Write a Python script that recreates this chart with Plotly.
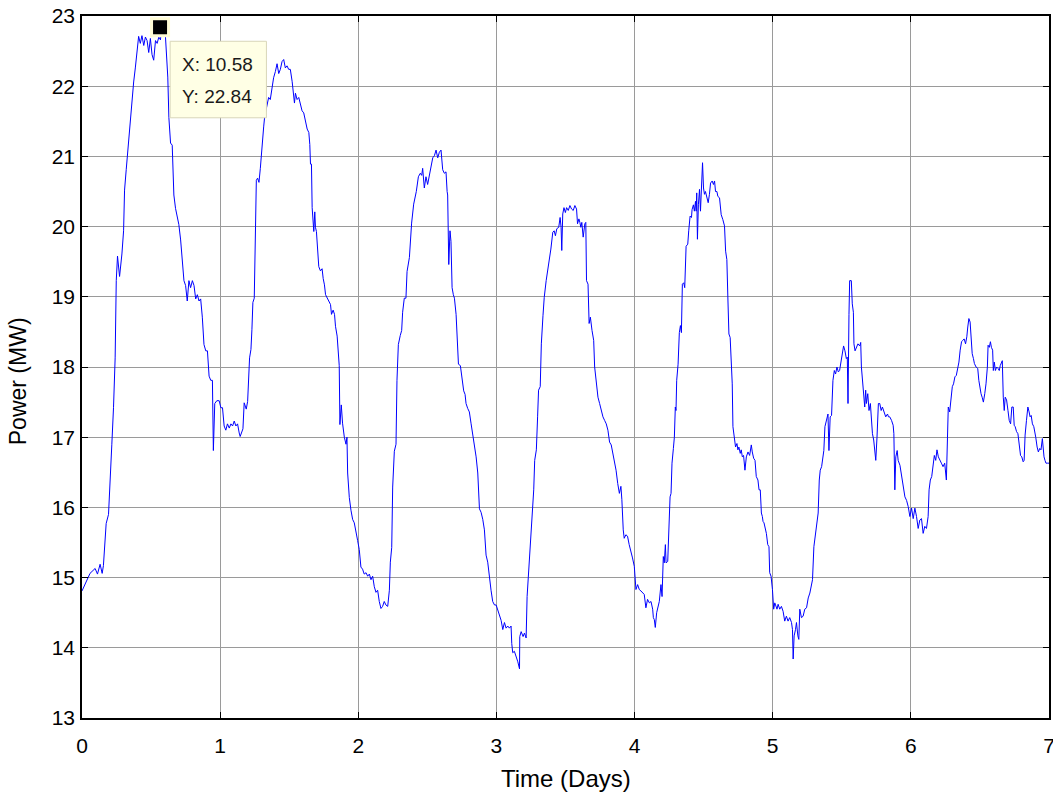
import plotly.graph_objects as go

# ---- data ----
day = [
0.000,0.022,0.058,0.095,0.112,0.131,0.146,0.155,0.160,0.175,0.192,0.204,0.216,0.228,0.240,0.248,0.257,0.272,0.289,0.301,
0.308,0.320,0.337,0.350,0.362,0.374,0.386,0.398,0.410,0.422,0.434,0.447,0.459,0.471,0.483,0.495,0.507,0.519,0.532,0.544,
0.556,0.568,0.575,0.587,0.597,0.604,0.612,0.621,0.629,0.641,0.653,0.665,0.677,0.689,0.701,0.714,0.726,0.738,0.750,0.762,
0.774,0.786,0.799,0.811,0.823,0.835,0.847,0.859,0.871,0.883,0.896,0.908,0.920,0.932,0.944,0.951,0.961,0.976,0.993,1.005,
1.017,1.029,1.041,1.053,1.066,1.078,1.090,1.102,1.114,1.126,1.138,
1.145,1.165,1.174,1.189,1.199,1.213,1.223,1.230,1.237,1.247,1.254,1.262,1.271,1.281,1.291,1.298,1.308,1.315,1.322,1.339,
1.351,1.363,1.375,1.387,1.400,1.412,1.424,1.436,1.448,1.460,1.472,1.484,1.496,1.508,1.521,1.533,1.538,1.545,1.557,1.569,
1.581,1.593,1.605,1.617,1.630,1.642,1.649,1.654,1.661,1.666,1.673,1.678,1.685,1.690,1.697,1.707,1.714,1.726,1.738,1.746,
1.755,1.763,1.775,1.787,1.799,1.806,1.818,1.828,1.835,1.847,1.855,1.862,1.867,1.877,
1.886,1.899,1.911,1.918,1.923,1.935,1.947,1.959,1.971,1.983,1.995,2.007,2.019,2.031,2.043,2.056,2.068,2.080,2.092,2.104,
2.116,2.128,2.140,2.152,2.164,2.176,2.188,2.200,2.213,2.225,2.232,2.242,2.249,2.261,2.273,2.280,2.290,2.304,2.314,2.321,
2.333,2.345,2.353,2.370,2.377,2.386,2.401,2.411,2.420,2.435,2.449,2.459,2.466,2.478,2.490,2.502,2.514,2.527,2.539,2.551,
2.563,2.575,2.587,2.599,2.606,2.611,2.623,2.635,2.643,2.647,2.655,2.664,2.671,2.679,2.688,2.696,2.708,2.715,2.725,2.739,
2.749,2.763,2.773,2.780,2.792,2.804,2.816,2.829,2.836,2.845,2.853,2.865,2.877,2.889,2.901,2.913,2.925,2.937,2.949,2.961,
2.973,2.986,2.998,3.010,3.022,3.034,3.046,3.058,3.070,3.082,3.094,3.106,3.111,3.118,3.130,3.143,3.155,3.167,
3.169,3.179,3.193,3.203,3.215,3.222,3.234,3.246,3.258,3.270,3.277,3.289,3.298,3.305,3.317,3.325,3.337,3.346,3.360,3.372,
3.384,3.394,3.408,3.418,3.427,3.437,3.451,3.461,3.468,3.473,3.480,3.489,3.499,3.508,3.520,3.532,3.544,3.556,3.568,3.580,
3.587,3.597,3.604,3.611,3.618,3.628,3.640,3.647,3.652,3.663,3.671,3.680,3.692,3.704,3.711,3.723,3.735,3.747,3.759,3.771,
3.783,3.795,3.807,3.819,3.831,3.842,3.854,3.866,3.878,3.890,
3.901,3.908,3.918,3.925,3.937,3.949,3.961,3.973,3.985,3.998,4.005,4.010,4.022,4.034,4.046,4.058,4.070,4.082,4.094,4.107,
4.119,4.131,4.136,4.143,4.150,4.160,4.169,4.179,4.191,4.199,4.208,4.215,4.223,4.228,4.240,4.247,4.257,4.264,4.271,4.281,
4.288,4.295,4.300,4.305,4.315,4.324,4.332,4.339,4.346,4.356,4.363,4.373,4.385,4.392,4.402,4.412,4.416,4.426,4.433,4.441,
4.446,4.450,4.455,4.462,4.470,4.477,4.484,4.492,4.499,4.506,4.513,4.523,4.533,4.542,4.550,4.562,4.571,4.579,4.586,4.596,
4.603,4.615,4.627,4.639,4.651,4.659,4.668,4.676,4.683,4.692,4.700,4.707,4.712,4.724,4.731,4.741,4.748,4.755,4.765,4.772,
4.780,4.789,4.799,4.809,4.821,4.833,4.845,4.852,4.862,4.872,4.881,4.893,4.901,4.910,4.918,4.925,4.930,4.937,4.947,4.954,
4.964,4.973,4.978,4.988,4.998,5.007,5.015,5.022,5.031,5.039,5.051,5.063,5.075,5.087,5.099,5.111,5.123,5.136,5.143,5.148,
5.155,5.165,5.172,5.182,5.189,5.196,5.208,5.220,5.232,5.245,5.257,5.269,5.281,5.288,5.298,5.305,5.317,5.329,5.337,
5.344,5.354,5.363,5.370,5.378,5.387,5.400,5.407,5.416,5.426,5.436,5.446,5.455,5.465,5.475,5.484,5.494,5.504,5.513,5.523,
5.533,5.540,5.545,5.552,5.557,5.569,5.576,5.584,5.588,5.596,5.605,5.617,5.630,5.637,5.642,5.649,5.659,5.666,5.673,5.678,
5.688,5.697,5.707,5.714,5.722,5.731,5.738,5.746,5.755,5.765,5.775,5.785,5.794,5.804,5.818,5.831,5.838,5.847,5.860,5.872,
5.877,5.884,5.891,5.901,5.908,
5.921,5.933,5.945,5.957,5.969,5.981,5.993,6.005,6.017,6.029,6.041,6.053,6.065,6.077,6.089,6.101,6.113,6.125,6.132,6.141,
6.151,6.161,6.170,6.180,6.189,6.199,6.209,6.221,6.233,6.245,6.257,6.264,6.271,6.281,6.293,6.300,6.309,6.319,6.329,6.341,
6.348,6.357,6.367,6.376,6.386,6.396,6.405,6.412,6.420,6.429,6.436,6.444,6.453,6.460,6.472,6.484,6.492,6.501,6.508,6.516,
6.525,6.535,6.544,6.554,6.559,6.568,6.576,6.583,6.592,6.597,6.604,6.612,6.621,6.631,6.640,6.647,6.655,6.662,6.669,6.676,
6.683,6.693,6.703,6.712,6.722,6.731,6.741,6.748,6.755,6.765,6.775,6.784,6.794,6.803,6.813,6.820,6.827,6.837,6.847,6.856,
6.863,6.871,6.880,6.890,6.897,6.904,6.914,6.923,6.933,6.942,6.952,6.957,6.964,6.971,6.978,6.990,7.000,
]

power_mw = [
14.81,14.90,15.06,15.13,15.05,15.19,15.06,15.17,15.35,15.77,15.90,16.32,16.90,17.42,18.13,19.23,19.58,19.29,19.61,19.94,
20.52,20.81,21.23,21.48,21.81,22.06,22.26,22.52,22.71,22.61,22.72,22.58,22.70,22.65,22.48,22.68,22.45,22.37,22.65,22.61,
22.70,22.66,22.84,22.71,22.74,22.71,22.45,22.13,21.55,21.19,21.16,20.45,20.26,20.16,20.03,19.81,19.52,19.23,19.16,18.94,
19.23,19.13,19.23,19.16,18.97,19.03,18.94,18.97,18.71,18.32,18.23,18.23,17.87,17.81,17.81,16.81,17.48,17.52,17.52,17.42,
17.42,17.16,17.10,17.19,17.13,17.19,17.16,17.23,17.16,17.19,17.06,
17.01,17.12,17.49,17.40,17.51,18.13,18.25,18.53,18.92,18.98,19.93,20.66,20.69,20.63,20.83,21.00,21.37,21.42,21.56,21.73,
21.84,21.81,22.01,22.12,22.21,22.32,22.18,22.24,22.35,22.38,22.26,22.29,22.24,22.24,22.07,21.90,21.76,21.90,21.81,21.84,
21.73,21.65,21.62,21.51,21.39,21.34,21.17,20.89,20.89,20.27,20.07,19.93,20.21,19.99,19.93,19.62,19.43,19.37,19.40,19.26,
19.17,19.03,18.98,18.92,18.89,18.75,18.81,18.75,18.58,18.44,18.13,18.02,17.18,17.46,
17.20,17.00,16.90,17.00,16.49,16.14,15.96,15.83,15.78,15.63,15.53,15.40,15.15,15.12,15.05,15.07,15.02,15.05,14.97,15.02,
14.87,14.79,14.82,14.66,14.56,14.59,14.66,14.61,14.59,14.82,15.22,15.43,16.29,16.80,16.90,17.81,18.32,18.45,18.52,18.78,
18.98,18.98,19.36,19.56,19.82,20.05,20.32,20.40,20.50,20.71,20.76,20.73,20.83,20.55,20.71,20.60,20.73,20.86,20.98,21.01,
21.09,20.98,21.06,21.09,20.96,20.81,20.76,20.78,20.50,20.45,19.46,19.94,19.79,19.13,19.03,18.98,18.75,18.42,18.04,18.02,
17.86,17.66,17.61,17.48,17.41,17.36,17.20,17.03,16.90,16.80,16.72,16.49,15.98,15.93,15.83,15.68,15.32,15.22,14.97,14.82,
14.66,14.61,14.61,14.54,14.46,14.39,14.26,14.36,14.28,14.31,14.28,14.31,14.06,13.93,13.95,13.88,13.80,13.70,
14.16,14.23,14.16,14.21,14.14,14.73,15.13,15.58,15.96,16.25,16.67,16.82,17.29,17.67,17.72,18.33,18.73,18.99,19.23,19.37,
19.56,19.68,19.92,19.94,19.87,19.97,19.99,20.13,19.99,19.66,20.18,20.27,20.20,20.27,20.23,20.30,20.25,20.23,20.30,20.25,
20.04,20.11,20.06,19.99,20.06,19.85,20.04,20.06,19.23,19.18,18.62,18.71,18.52,18.38,18.00,17.79,17.57,17.48,17.38,17.29,
17.24,17.19,17.10,16.93,16.89,16.77,16.67,16.53,16.34,16.20,
16.30,16.11,15.68,15.56,15.61,15.59,15.47,15.35,15.28,15.16,15.02,14.83,14.90,14.83,14.81,14.78,14.76,14.57,14.69,14.64,
14.66,14.55,14.43,14.40,14.29,14.50,14.57,14.66,14.90,14.73,15.30,15.21,15.47,15.21,15.23,15.73,16.15,16.20,16.63,16.84,
17.00,17.43,17.38,17.81,18.04,18.49,18.59,18.49,19.18,19.20,19.13,19.72,19.75,19.94,20.15,20.13,20.24,20.31,20.22,20.36,
20.22,20.48,19.82,20.31,20.53,20.22,20.62,20.91,20.55,20.46,20.50,20.41,20.34,20.46,20.62,20.65,20.60,20.65,20.50,20.50,
20.43,20.41,20.17,20.10,20.01,19.65,19.53,18.94,18.47,18.42,18.14,17.76,17.15,16.91,16.86,16.91,16.82,16.86,16.77,16.82,
16.72,16.74,16.53,16.72,16.79,16.74,16.89,16.79,16.70,16.67,16.44,16.39,16.25,16.25,15.92,15.87,15.80,15.78,15.68,15.63,
15.47,15.44,15.07,15.02,14.83,14.55,14.64,14.59,14.55,14.62,14.55,14.59,14.52,14.38,14.45,14.38,14.43,14.36,14.26,13.84,
14.17,14.26,14.36,14.17,14.12,14.55,14.43,14.45,14.55,14.57,14.71,14.78,14.92,14.97,15.44,15.54,15.68,15.92,16.39,
16.53,16.58,16.77,16.81,17.15,17.22,17.33,16.81,17.29,17.31,17.81,17.95,17.90,18.00,17.93,17.95,18.09,18.16,18.30,18.23,
18.12,18.14,17.48,18.75,19.23,19.23,18.90,18.78,18.33,18.23,18.28,18.33,18.30,18.35,18.00,17.81,17.67,17.43,17.67,17.48,
17.62,17.38,17.48,17.19,17.05,16.96,16.81,16.67,17.00,17.48,17.48,17.38,17.43,17.38,17.29,17.33,17.29,17.29,17.24,17.17,
17.05,16.25,16.72,16.81,16.67,
16.60,16.44,16.29,16.15,16.10,16.01,15.87,15.99,15.84,15.99,15.87,15.70,15.82,15.84,15.63,15.73,15.70,15.87,16.25,16.39,
16.44,16.63,16.74,16.67,16.82,16.72,16.67,16.63,16.58,16.63,16.39,17.19,17.43,17.36,17.57,17.72,17.76,17.86,17.88,18.00,
18.07,18.24,18.36,18.38,18.40,18.33,18.43,18.57,18.69,18.64,18.38,18.19,18.12,18.05,18.00,17.98,17.81,17.67,17.62,17.57,
17.50,17.62,17.76,18.00,18.31,18.28,18.36,18.28,18.24,17.95,18.07,17.95,18.00,17.98,17.95,18.02,18.07,18.09,17.57,17.38,
17.57,17.53,17.38,17.24,17.19,17.43,17.43,17.17,17.15,17.08,17.05,16.86,16.74,16.72,16.65,16.67,17.03,17.24,17.43,17.36,
17.29,17.31,17.19,17.15,17.03,17.00,16.86,16.79,16.84,16.82,16.98,16.86,16.72,16.67,16.63,16.63,16.63,
]

x_ticks = [0, 1, 2, 3, 4, 5, 6, 7]
y_ticks = [13, 14, 15, 16, 17, 18, 19, 20, 21, 22, 23]

tip_x = 0.565
tip_y = 22.84
tip_lines = ["X: 10.58", "Y: 22.84"]

FONT = "Liberation Sans, Arial, sans-serif"

fig = go.Figure()
fig.add_trace(go.Scatter(
    x=day, y=power_mw, mode="lines",
    line=dict(color="#0000ff", width=1),
    hoverinfo="skip", showlegend=False,
))
# data-tip marker
fig.add_trace(go.Scatter(
    x=[tip_x], y=[tip_y], mode="markers",
    marker=dict(symbol="square", size=17, color="black",
                line=dict(color="#fffbd5", width=3)),
    hoverinfo="skip", showlegend=False, cliponaxis=False,
))

axis_common = dict(
    showline=True, linecolor="black", linewidth=1.5, mirror="allticks",
    ticks="inside", ticklen=6, tickcolor="black", tickwidth=1,
    showgrid=True, gridcolor="#9a9a9a", gridwidth=1,
    zeroline=False, tickfont=dict(family=FONT, size=21, color="black"),
    ticklabeloverflow="allow", automargin=False,
)

fig.update_layout(
    width=1053, height=795,
    margin=dict(l=82, r=4, t=16, b=77),
    paper_bgcolor="white", plot_bgcolor="white",
    font=dict(family=FONT, color="black"),
    xaxis=dict(range=[0, 7], tickvals=x_ticks, ticktext=[str(v) for v in x_ticks],
               ticklabelstandoff=8, **axis_common),
    yaxis=dict(range=[13, 23], tickvals=y_ticks, ticktext=[str(v) for v in y_ticks],
               ticklabelstandoff=1, **axis_common),
)

# axis titles
fig.add_annotation(text="Time (Days)", xref="paper", yref="paper", x=0.5, y=-0.0855,
                   xanchor="center", yanchor="middle", showarrow=False,
                   font=dict(family=FONT, size=24, color="black"))
fig.add_annotation(text="Power (MW)", xref="paper", yref="paper", x=-0.066, y=0.48,
                   xanchor="center", yanchor="middle", showarrow=False, textangle=-90,
                   font=dict(family=FONT, size=23, color="black"))

# data-tip box
fig.add_shape(type="rect", xref="x", yref="y",
              x0=0.638, x1=1.335, y0=21.55, y1=22.64,
              fillcolor="#ffffe5", line=dict(color="#d8d6b8", width=1), layer="above")
for i, t in enumerate(tip_lines):
    fig.add_annotation(x=0.71, y=22.31 - 0.46 * i, xref="x", yref="y",
                       text=t, showarrow=False, xanchor="left", yanchor="middle",
                       font=dict(family=FONT, size=19, color="#1a1a1a"))

fig.write_html("out.html", config={"displayModeBar": False},
               post_script="document.body.style.margin='0';document.body.style.overflow='hidden';")
